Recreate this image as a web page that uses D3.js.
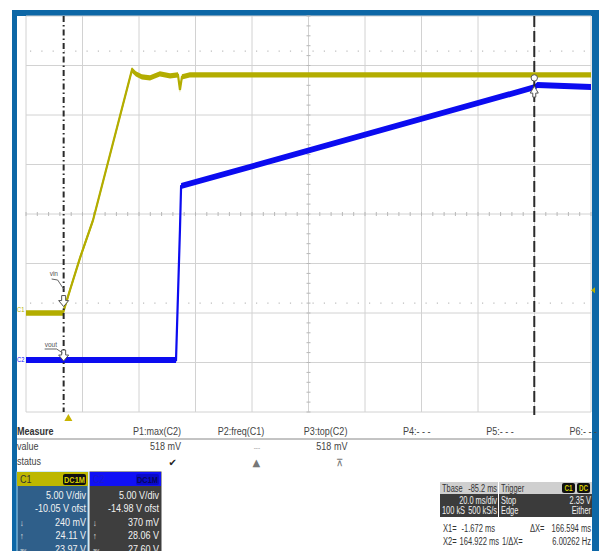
<!DOCTYPE html>
<html>
<head>
<meta charset="utf-8">
<script src="https://cdn.jsdelivr.net/npm/d3@7"></script>
<style>
  body { margin: 0; background: #fff; }
  text { font-family: "Liberation Sans", Arial, sans-serif; }
</style>
</head>
<body>
<div id="scope"></div>
<script>
// C1 = vin trace (time in ms, volts)
let c1Time = [-15, -1.9, -1.7, 0.6, 4.1, 8.7, 14.7, 22.5, 23.9, 26, 28.9, 32.4, 36, 38.8, 39.5, 40.2, 43, 60, 100, 140, 185];
let c1Volt = [0.05, 0.05, 0.25, 2.4, 5.6, 9.4, 16.0, 24.6, 24.2, 23.9, 23.8, 24.2, 24.0, 24.1, 22.6, 23.9, 24.1, 24.1, 24.1, 24.1, 24.1];
// C2 = vout trace
let c2Time = [-15, 38.1, 39.5, 39.9, 165.2, 166, 185];
let c2Volt = [0.23, 0.23, 13.4, 17.8, 27.8, 28.0, 27.8];

let cursorTimes = [-1.672, 164.922];
let triggerTime = 0;
let triggerLevel = 2.35;
let voltsPerDiv = 5;
let c1Offset = -10.05;
let c2Offset = -14.98;

let measureNames = ["P1:max(C2)", "P2:freq(C1)", "P3:top(C2)", "P4:- - -", "P5:- - -", "P6:- - -"];
let measureValues = ["518 mV", "---", "518 mV", "", "", ""];
let measureStatus = ["\u2714", "\u25B2", "\u22BC", "", "", ""];

let c1Lines = ["5.00 V/div", "-10.05 V ofst", "240 mV", "24.11 V", "23.97 V"];
let c2Lines = ["5.00 V/div", "-14.98 V ofst", "370 mV", "28.06 V", "27.60 V"];
let statSymbols = ["", "", "\u2193", "\u2191", "av"];

const W = 599, H = 551;
const pLeft = 26, pRight = 591, pTop = 16, pBottom = 412;
const yellow = "#b3ad00", blue = "#0c0cf0", frame = "#0d67a6";

let svg = d3.select("#scope").append("svg")
    .attr("width", W).attr("height", H);

// blue frame
svg.append("rect").attr("x", 12).attr("y", 10).attr("width", W - 12).attr("height", H - 10).attr("fill", frame);
svg.append("rect").attr("x", 17).attr("y", 16).attr("width", 575).attr("height", H - 16).attr("fill", "#fff");

let x = d3.scaleLinear().domain([-15, 185]).range([pLeft, pRight]);
let y1 = d3.scaleLinear().domain([-c1Offset - 4 * voltsPerDiv, -c1Offset + 4 * voltsPerDiv]).range([pBottom, pTop]);
let y2 = d3.scaleLinear().domain([-c2Offset - 4 * voltsPerDiv, -c2Offset + 4 * voltsPerDiv]).range([pBottom, pTop]);

// grid
let g = svg.append("g");
let xDivs = d3.range(11).map(i => -15 + i * 20);
let yDivs = d3.range(9).map(i => -c1Offset - 20 + i * 5);

g.selectAll(".vx").data(xDivs).enter().append("line")
    .attr("x1", d => x(d)).attr("x2", d => x(d))
    .attr("y1", pTop).attr("y2", pBottom)
    .attr("stroke", "#d2d2d2").attr("stroke-width", 1);
g.selectAll(".hy").data(yDivs).enter().append("line")
    .attr("x1", pLeft).attr("x2", pRight)
    .attr("y1", d => y1(d)).attr("y2", d => y1(d))
    .attr("stroke", "#d2d2d2").attr("stroke-width", 1);

// minor ticks on the centre lines
let xMinor = d3.range(51).map(i => -15 + i * 4);
let yMinor = d3.range(41).map(i => -c1Offset - 20 + i);
g.selectAll(".mx").data(xMinor).enter().append("line")
    .attr("x1", d => x(d)).attr("x2", d => x(d))
    .attr("y1", y1(-c1Offset) - 2).attr("y2", y1(-c1Offset) + 2)
    .attr("stroke", "#b8b8b8");
g.selectAll(".my").data(yMinor).enter().append("line")
    .attr("x1", x(85) - 2).attr("x2", x(85) + 2)
    .attr("y1", d => y1(d)).attr("y2", d => y1(d))
    .attr("stroke", "#b8b8b8");

// dotted reference levels
[26.5, 1.05].forEach(v => {
    g.append("line")
        .attr("x1", pLeft + 4).attr("x2", pRight - 4)
        .attr("y1", y1(v)).attr("y2", y1(v))
        .attr("stroke", "#bdbdbd").attr("stroke-width", 1.2)
        .attr("stroke-dasharray", "1.2,10.1");
});

// traces
function drawTrace(times, volts, yScale, color, half) {
    let pts = times.map((t, i) => ({t: t, v: volts[i]}));
    let area = d3.area()
        .x(d => x(d.t))
        .y0(d => yScale(d.v) + half)
        .y1(d => yScale(d.v) - half);
    let line = d3.line().x(d => x(d.t)).y(d => yScale(d.v));
    svg.append("path").datum(pts).attr("d", area).attr("fill", color);
    svg.append("path").datum(pts).attr("d", line)
        .attr("fill", "none").attr("stroke", color).attr("stroke-width", 2.2);
}
drawTrace(c1Time, c1Volt, y1, yellow, 2.7);
drawTrace(c2Time, c2Volt, y2, blue, 3);

// cursors
svg.append("line")
    .attr("x1", x(cursorTimes[0])).attr("x2", x(cursorTimes[0]))
    .attr("y1", pTop).attr("y2", pBottom)
    .attr("stroke", "#2a2a2a").attr("stroke-width", 2)
    .attr("stroke-dasharray", "6,3,1.5,3");
svg.append("line")
    .attr("x1", x(cursorTimes[1])).attr("x2", x(cursorTimes[1]))
    .attr("y1", pTop).attr("y2", pBottom + 3)
    .attr("stroke", "#2a2a2a").attr("stroke-width", 2)
    .attr("stroke-dasharray", "11,4");

// cursor markers
function downArrow(cx, cy) {
    svg.append("path")
        .attr("d", `M${cx - 2},${cy - 8}h4v5h3l-5,6l-5,-6h3z`)
        .attr("fill", "#fff").attr("stroke", "#555").attr("stroke-width", 1);
}
let cx0 = x(cursorTimes[0]);
downArrow(cx0, y1(0.8) - 2);
downArrow(cx0, y2(0.23) - 2);
svg.append("text").attr("x", cx0 - 14).attr("y", 276).attr("font-size", 8).attr("fill", "#555").text("vin");
svg.append("path").attr("d", `M${cx0 - 12},279 l6,1 l6,9`).attr("fill", "none").attr("stroke", "#666");
svg.append("text").attr("x", cx0 - 19).attr("y", 347).attr("font-size", 8).attr("fill", "#555").text("vout");
svg.append("path").attr("d", `M${cx0 - 19},349 l12,0 l6,4`).attr("fill", "none").attr("stroke", "#666");

let cx1 = x(cursorTimes[1]);
svg.append("circle").attr("cx", cx1).attr("cy", y1(24.1) + 3).attr("r", 3.2)
    .attr("fill", "#fff").attr("stroke", "#555");
svg.append("path")
    .attr("d", `M${cx1},${y2(27.8) - 1}l4,7h-2.5v4h-3v-4h-2.5z`)
    .attr("fill", "#fff").attr("stroke", "#555");

// channel tags at the left edge
svg.append("text").attr("x", 17).attr("y", y1(0.05) - 1).attr("font-size", 7).attr("fill", yellow).text("C1");
svg.append("text").attr("x", 17).attr("y", y2(0.23) + 2).attr("font-size", 7).attr("fill", blue).text("C2");

// trigger markers
svg.append("path")
    .attr("d", `M${pRight + 4},${y1(triggerLevel) - 3}l-4,3l4,3z`)
    .attr("fill", yellow);
svg.append("path")
    .attr("d", `M${x(triggerTime)},${pBottom + 2}l4,7h-8z`)
    .attr("fill", "#c8b400");

// measurement table
let colEnds = d3.range(6).map(i => 181 + i * 83.2);
svg.append("text").attr("x", 17).attr("y", 435).attr("font-size", 11)
    .attr("font-weight", "bold").attr("fill", "#333").text("Measure");
svg.append("line").attr("x1", 17).attr("x2", 592).attr("y1", 439).attr("y2", 439)
    .attr("stroke", "#888");
svg.append("text").attr("x", 17).attr("y", 450).attr("font-size", 11).attr("fill", "#444").text("value");
svg.append("text").attr("x", 17).attr("y", 465).attr("font-size", 11).attr("fill", "#444").text("status");

svg.selectAll(".mname").data(measureNames).enter().append("text")
    .attr("x", (d, i) => colEnds[i]).attr("y", 435)
    .attr("text-anchor", "end").attr("font-size", 11).attr("fill", "#444")
    .text(d => d);
svg.selectAll(".mval").data(measureValues).enter().append("text")
    .attr("x", (d, i) => colEnds[i] - (d === "---" ? 4 : 0)).attr("y", 450)
    .attr("text-anchor", "end").attr("font-size", d => d === "---" ? 8 : 11)
    .attr("fill", d => d === "---" ? "#999" : "#444")
    .text(d => d);

// channel boxes
function channelBox(bx, label, head, body, badgeFill, badgeText, lines, outline) {
    let b = svg.append("g");
    b.append("rect").attr("x", bx).attr("y", 472).attr("width", 71).attr("height", 80)
        .attr("fill", body).attr("stroke", outline).attr("stroke-width", 1);
    b.append("rect").attr("x", bx).attr("y", 472).attr("width", 71).attr("height", 14).attr("fill", head);
    b.append("text").attr("x", bx + 3).attr("y", 483).attr("font-size", 11)
        .attr("fill", label === "C1" ? "#333" : "#1a1acc").text(label);
    b.append("rect").attr("x", bx + 46).attr("y", 474).attr("width", 23).attr("height", 11)
        .attr("rx", 2).attr("fill", badgeFill);
    b.append("text").attr("x", bx + 57.5).attr("y", 483).attr("font-size", 9)
        .attr("text-anchor", "middle").attr("font-weight", "bold").attr("fill", badgeText).text("DC1M");
    b.selectAll(".cl").data(lines).enter().append("text")
        .attr("x", bx + 69).attr("y", (d, i) => 499 + i * 13.5)
        .attr("text-anchor", "end").attr("font-size", 11).attr("fill", "#f2f2f2")
        .text(d => d);
    b.selectAll(".cs").data(statSymbols).enter().append("text")
        .attr("x", bx + 3).attr("y", (d, i) => 499 + i * 13.5)
        .attr("font-size", d => d === "av" ? 7 : 9).attr("fill", "#e0e0e0")
        .text(d => d);
}
channelBox(17, "C1", "#bdb700", "#2f5f8a", "#111", "#d8d000", c1Lines, "#9fd6f2");
channelBox(90, "C2", "#1010f6", "#3e3e3e", "#0a0ac8", "#06065e", c2Lines, "#3e3e3e");

// timebase box
let fsSmall = 10.6;
let tb = svg.append("g").attr("class", "tight").attr("font-size", fsSmall);
tb.append("rect").attr("x", 440).attr("y", 482).attr("width", 58).attr("height", 12).attr("fill", "#cfcfcf");
tb.append("rect").attr("x", 440).attr("y", 494).attr("width", 58).attr("height", 23).attr("fill", "#3b3b3b");
tb.append("text").attr("x", 442).attr("y", 492).attr("fill", "#333").text("Tbase");
tb.append("text").attr("x", 497).attr("y", 492).attr("text-anchor", "end").attr("fill", "#333").text("-85.2 ms");
tb.append("text").attr("x", 497).attr("y", 504).attr("text-anchor", "end").attr("fill", "#f0f0f0").text("20.0 ms/div");
tb.append("text").attr("x", 442).attr("y", 514.5).attr("fill", "#f0f0f0").text("100 kS");
tb.append("text").attr("x", 497).attr("y", 514.5).attr("text-anchor", "end").attr("fill", "#f0f0f0").text("500 kS/s");

// trigger box
let tr = svg.append("g").attr("class", "tight").attr("font-size", fsSmall);
tr.append("rect").attr("x", 499).attr("y", 482).attr("width", 93).attr("height", 12).attr("fill", "#cfcfcf");
tr.append("rect").attr("x", 499).attr("y", 494).attr("width", 93).attr("height", 23).attr("fill", "#3b3b3b");
tr.append("text").attr("x", 501).attr("y", 492).attr("fill", "#333").text("Trigger");
[["C1", 562], ["DC", 577]].forEach(b => {
    tr.append("rect").attr("x", b[1]).attr("y", 483).attr("width", 13).attr("height", 10).attr("rx", 2).attr("fill", "#111");
    tr.append("text").attr("x", b[1] + 6.5).attr("y", 491.5).attr("text-anchor", "middle")
        .attr("font-size", 9).attr("font-weight", "bold").attr("fill", "#d8d000").text(b[0]);
});
tr.append("text").attr("x", 501).attr("y", 504).attr("fill", "#f0f0f0").text("Stop");
tr.append("text").attr("x", 591).attr("y", 504).attr("text-anchor", "end").attr("fill", "#f0f0f0").text(triggerLevel.toFixed(2) + " V");
tr.append("text").attr("x", 501).attr("y", 514.5).attr("fill", "#f0f0f0").text("Edge");
tr.append("text").attr("x", 591).attr("y", 514.5).attr("text-anchor", "end").attr("fill", "#f0f0f0").text("Either");

// cursor readouts
let dx = cursorTimes[1] - cursorTimes[0];
let cr = svg.append("g").attr("class", "tight").attr("font-size", 10.8).attr("fill", "#333");
cr.append("text").attr("x", 443).attr("y", 532).text("X1=");
cr.append("text").attr("x", 495).attr("y", 532).attr("text-anchor", "end").text(cursorTimes[0].toFixed(3) + " ms");
cr.append("text").attr("x", 530).attr("y", 532).text("\u0394X=");
cr.append("text").attr("x", 591).attr("y", 532).attr("text-anchor", "end").text(dx.toFixed(3) + " ms");
cr.append("text").attr("x", 443).attr("y", 545).text("X2=");
cr.append("text").attr("x", 499).attr("y", 545).attr("text-anchor", "end").text(cursorTimes[1].toFixed(3) + " ms");
cr.append("text").attr("x", 502).attr("y", 545).text("1/\u0394X=");
cr.append("text").attr("x", 591).attr("y", 545).attr("text-anchor", "end").text((1000 / dx).toFixed(5) + " Hz");

// the scope uses a condensed face: squeeze every label about its anchor
svg.selectAll("text").each(function() {
    let ax = +this.getAttribute("x");
    let k = this.closest(".tight") ? 0.7 : 0.82;
    d3.select(this).attr("transform", `translate(${ax},0) scale(${k},1) translate(${-ax},0)`);
});

// status icons (drawn after, not squeezed)
svg.selectAll(".mstat").data(measureStatus).enter().append("text")
    .attr("x", (d, i) => colEnds[i] - 4).attr("y", 466)
    .attr("text-anchor", "end").attr("font-size", 10)
    .style("font-family", "DejaVu Sans")
    .attr("fill", (d, i) => i === 0 ? "#222" : "#777")
    .text(d => d);
</script>
</body>
</html>
